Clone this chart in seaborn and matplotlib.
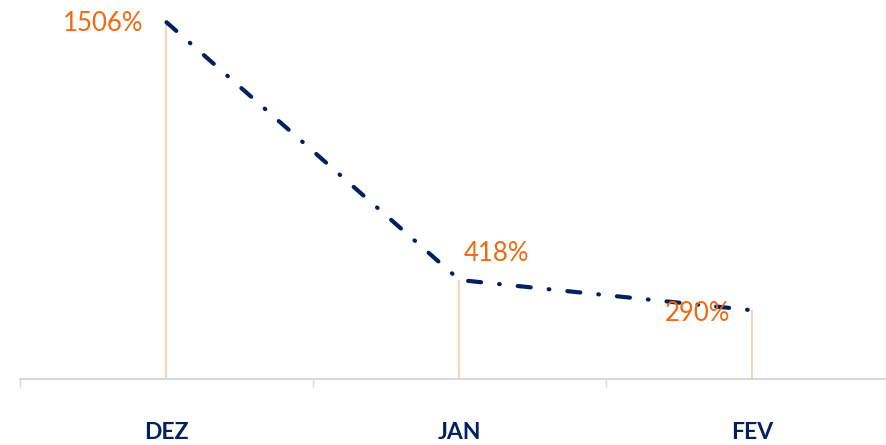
import numpy as np
import pandas as pd

import matplotlib
matplotlib.use("Agg")

import matplotlib.pyplot as plt
import seaborn as sns
from matplotlib.ticker import FixedLocator

months = ["DEZ", "JAN", "FEV"]
values = [1506, 418, 290]
labels = ["1506%", "418%", "290%"]

NAVY = "#002060"
ORANGE = "#F0690F"
DROP = "#F8CBAD"
GRID = "#D9D9D9"

sns.set_style("white")
plt.rcParams["font.family"] = ["Lato", "DejaVu Sans"]
plt.rcParams["lines.scale_dashes"] = False

df = pd.DataFrame({"month": months, "value": values})

fig = plt.figure(figsize=(8.87, 4.45), dpi=100)
ax = fig.add_axes([20 / 887, 66 / 445, 879 / 887, 379 / 445])

sns.lineplot(data=df, x="month", y="value", color=NAVY, linewidth=3, ax=ax)
line = ax.lines[0]
line.set_dashes((9.4, 13, 0.5, 13))
line.set_dash_capstyle("round")
line.set_clip_on(False)

xs = np.arange(len(months))
ax.vlines(xs, 0, values, color=DROP, linewidth=1.2, zorder=1)

# value labels
offsets = [(-17, -1, "right"), (3, 19, "left"), (-16, -2, "right")]
for x, v, lab, (dx, dy, ha) in zip(xs, values, labels, offsets):
    ax.annotate(lab, (x, v), xytext=(dx, dy), textcoords="offset points",
                ha=ha, va="center", color=ORANGE, fontsize=18.5)

ax.set_xlim(-0.5, 2.5)
ax.set_ylim(0, 1600)
ax.set_yticks([])
ax.set_xlabel("")
ax.set_ylabel("")

ax.set_xticks(xs)
ax.set_xticklabels(months, fontsize=16.5, fontweight="bold", color=NAVY)
ax.tick_params(axis="x", which="major", length=0, pad=31)
ax.xaxis.set_minor_locator(FixedLocator([-0.5, 0.5, 1.5, 2.5]))
ax.tick_params(axis="x", which="minor", bottom=True, length=6, width=1, color=GRID)

for side in ["top", "right", "left"]:
    ax.spines[side].set_visible(False)
ax.spines["bottom"].set_color(GRID)
ax.spines["bottom"].set_linewidth(1.5)

fig.savefig("out.png", dpi=100)
plt.close()
